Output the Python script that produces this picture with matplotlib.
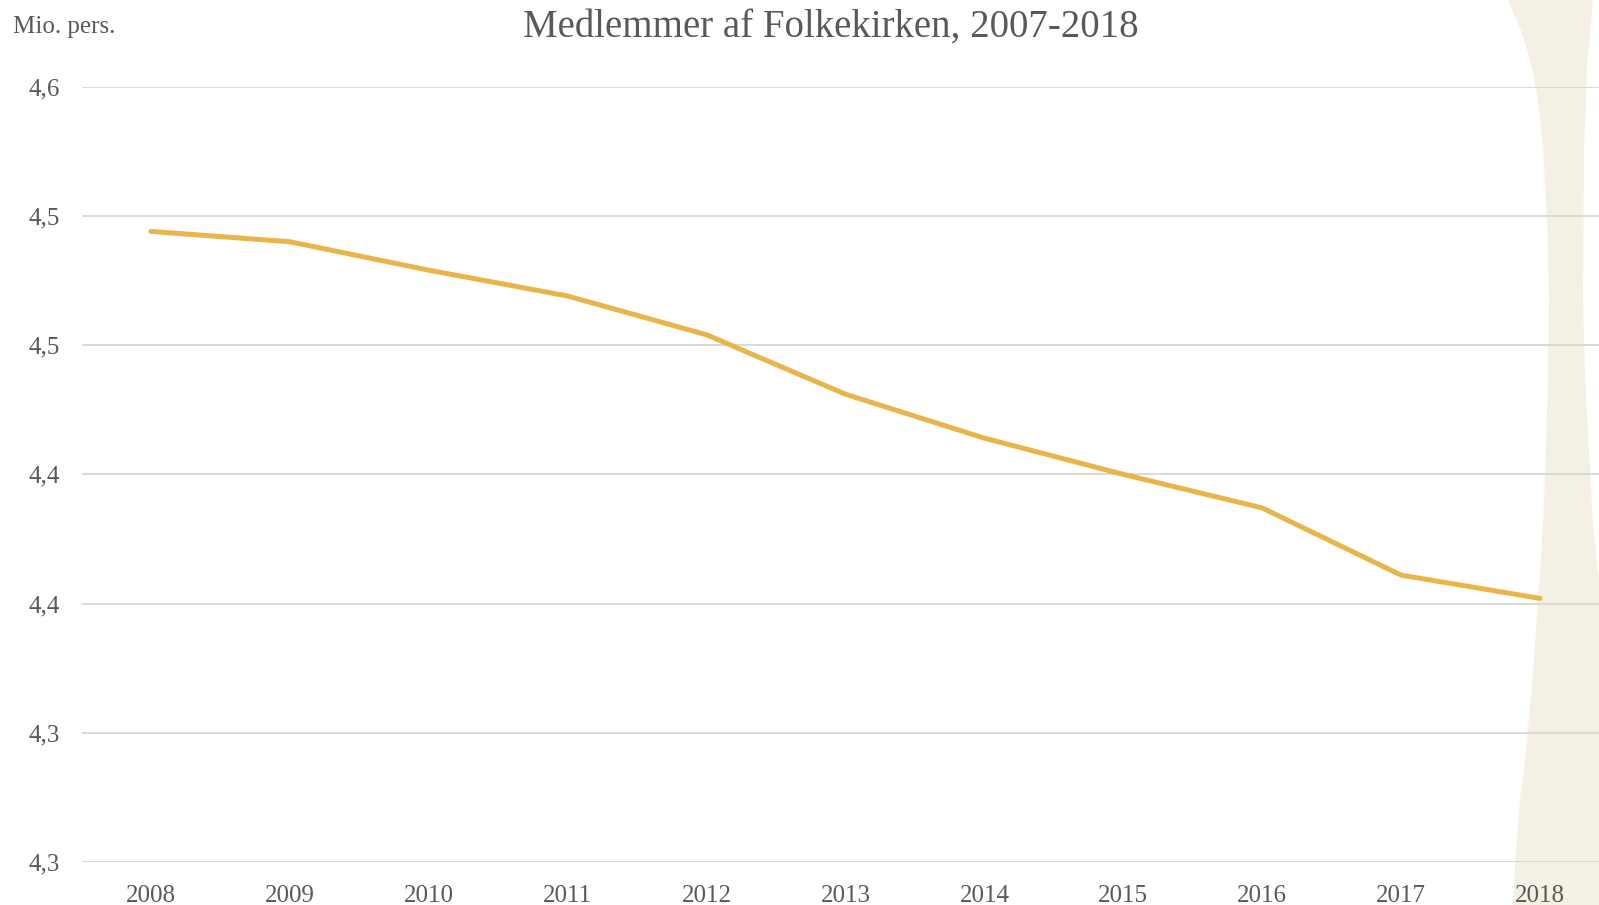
import matplotlib
matplotlib.use("Agg")
import matplotlib.pyplot as plt
import numpy as np

years = [2008, 2009, 2010, 2011, 2012, 2013, 2014, 2015, 2016, 2017, 2018]
members = [4.544, 4.540, 4.529, 4.519, 4.504, 4.481, 4.464, 4.450, 4.437, 4.411, 4.402]
y_ticks = [4.30, 4.35, 4.40, 4.45, 4.50, 4.55, 4.60]
y_tick_labels = ["4,3", "4,3", "4,4", "4,4", "4,5", "4,5", "4,6"]

text_color = "#595959"
plt.rcParams["font.family"] = ["Liberation Serif", "DejaVu Serif"]

W, H = 1599, 905
fig = plt.figure(figsize=(W / 100, H / 100), dpi=100)

# decorative beige band on the right (background, pixel coords)
bg = fig.add_axes([0, 0, 1, 1], zorder=0)
bg.set_xlim(0, W)
bg.set_ylim(H, 0)
bg.axis("off")
ly = [0, 33, 67, 100, 150, 217, 300, 375, 450, 525, 600, 675, 750, 800, 850, 905]
lx = [1508, 1522, 1532, 1538, 1543, 1547, 1549, 1548, 1546, 1543, 1538, 1533, 1526, 1520, 1516, 1513]
ry = [0, 33, 67, 100, 150, 300, 375, 450, 525, 550, 600, 905]
rx = [1593, 1590, 1587, 1586, 1584, 1583, 1585, 1589, 1593, 1596, 1601, 1620]
ys = np.linspace(0, H, 400)
bg.fill_betweenx(ys, np.interp(ys, ly, lx), np.interp(ys, ry, rx),
                 color="#f4f0e4", lw=0)

# main plot
x0, x1 = 81.6, 1609.5
y_top, y_bot = 86.7, 862
ax = fig.add_axes([x0 / W, 1 - y_bot / H, (x1 - x0) / W, (y_bot - y_top) / H], zorder=1)
ax.patch.set_alpha(0)
ax.plot(years, members, color="#e8b54a", lw=3.6, solid_capstyle="round", zorder=3)
ax.set_xlim(2007.5, 2018.5)
ax.set_ylim(4.30, 4.60)
ax.set_yticks(y_ticks)
ax.set_yticklabels(y_tick_labels)
ax.set_xticks(years)
ax.set_xticklabels([str(y) for y in years])
ax.grid(axis="y", color="#d9d9d9", lw=1.4)
ax.set_axisbelow(True)
for s in ax.spines.values():
    s.set_visible(False)
ax.tick_params(length=0, labelsize=18, colors=text_color)
ax.tick_params(axis="y", pad=15.5)
ax.tick_params(axis="x", pad=16.5)

fig.text(12.7 / W, 1 - 33 / H, "Mio. pers.", fontsize=18, color=text_color,
         ha="left", va="baseline")
fig.text(831 / W, 1 - 37 / H, "Medlemmer af Folkekirken, 2007-2018", fontsize=28,
         color=text_color, ha="center", va="baseline")

fig.savefig("out.png", dpi=100)
